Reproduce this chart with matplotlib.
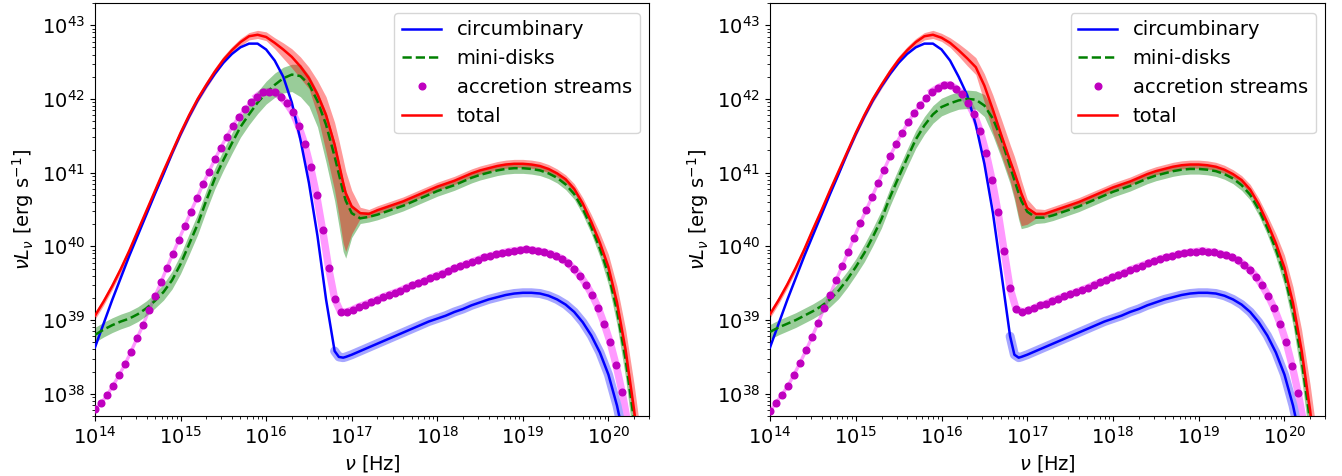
import numpy as np
import matplotlib
matplotlib.use("Agg")
import matplotlib.pyplot as plt

plt.rcParams['font.size'] = 14

# log10(nu) grid for the lines and bands (extra points around the dip)
lognu = np.sort(np.r_[np.arange(140, 205) / 10.0, 16.85, 16.93])

# circumbinary disk, log10(nu L_nu)
circ_left = [38.63, 38.95, 39.27, 39.57, 39.87, 40.15, 40.43, 40.71, 40.98, 41.26,
             41.52, 41.76, 41.98, 42.17, 42.34, 42.49, 42.61, 42.70, 42.75, 42.75,
             42.67, 42.52, 42.30, 41.95, 41.45, 40.86, 40.14, 39.28, 38.58, 38.50,
             38.49, 38.50, 38.53, 38.58, 38.63, 38.68, 38.73, 38.78, 38.83, 38.88,
             38.93, 38.98, 39.02, 39.06, 39.11, 39.15, 39.20, 39.24, 39.28, 39.31,
             39.34, 39.36, 39.37, 39.37, 39.36, 39.33, 39.28, 39.21, 39.11, 38.97,
             38.79, 38.56, 38.26, 37.84, 37.30, 36.60, 35.80]
circ_right = [38.63, 38.95, 39.27, 39.57, 39.87, 40.15, 40.43, 40.71, 40.98, 41.26,
              41.52, 41.76, 41.98, 42.17, 42.34, 42.49, 42.61, 42.70, 42.75, 42.75,
              42.67, 42.52, 42.30, 42.05, 41.65, 41.12, 40.45, 39.62, 38.78, 38.53,
              38.49, 38.50, 38.53, 38.58, 38.63, 38.68, 38.73, 38.78, 38.83, 38.88,
              38.93, 38.98, 39.02, 39.06, 39.11, 39.15, 39.20, 39.24, 39.28, 39.31,
              39.34, 39.36, 39.37, 39.37, 39.36, 39.33, 39.28, 39.21, 39.11, 38.97,
              38.79, 38.56, 38.26, 37.84, 37.30, 36.60, 35.80]

# mini-disks
mini_left = [38.80, 38.87, 38.93, 38.98, 39.02, 39.08, 39.16, 39.26, 39.38, 39.54,
             39.76, 40.03, 40.30, 40.62, 40.92, 41.17, 41.40, 41.62, 41.79, 41.95,
             42.08, 42.19, 42.28, 42.33, 42.31, 42.20, 41.97, 41.65, 41.22, 40.98,
             40.74, 40.62, 40.45, 40.38, 40.40, 40.43, 40.47, 40.51, 40.55, 40.60,
             40.65, 40.70, 40.75, 40.79, 40.83, 40.88, 40.93, 40.97, 41.00, 41.03,
             41.05, 41.06, 41.06, 41.05, 41.03, 40.99, 40.93, 40.84, 40.71, 40.51,
             40.26, 39.97, 39.62, 39.13, 38.47, 37.63, 36.60]
mini_right = [38.84, 38.90, 38.95, 39.00, 39.06, 39.12, 39.19, 39.28, 39.40, 39.55,
              39.72, 39.91, 40.13, 40.37, 40.67, 40.94, 41.20, 41.45, 41.64, 41.79,
              41.89, 41.94, 41.98, 42.00, 41.99, 41.91, 41.73, 41.45, 41.08, 40.90,
              40.72, 40.62, 40.47, 40.39, 40.39, 40.42, 40.46, 40.50, 40.54, 40.59,
              40.64, 40.69, 40.74, 40.78, 40.82, 40.87, 40.92, 40.96, 40.99, 41.02,
              41.04, 41.05, 41.05, 41.04, 41.02, 40.98, 40.92, 40.83, 40.70, 40.50,
              40.25, 39.96, 39.61, 39.12, 38.46, 37.62, 36.60]

# total
total_left = [39.06, 39.25, 39.46, 39.69, 39.94, 40.21, 40.48, 40.75, 41.02, 41.28,
              41.54, 41.78, 42.00, 42.19, 42.37, 42.53, 42.66, 42.77, 42.85, 42.87,
              42.84, 42.76, 42.67, 42.57, 42.44, 42.28, 42.06, 41.78, 41.38, 41.12,
              40.86, 40.72, 40.54, 40.45, 40.44, 40.49, 40.53, 40.57, 40.61, 40.66,
              40.71, 40.76, 40.81, 40.85, 40.89, 40.94, 40.99, 41.03, 41.06, 41.09,
              41.11, 41.12, 41.12, 41.11, 41.09, 41.05, 40.99, 40.91, 40.78, 40.58,
              40.33, 40.05, 39.72, 39.24, 38.60, 37.78, 36.80]
total_right = [39.08, 39.27, 39.48, 39.71, 39.96, 40.23, 40.49, 40.76, 41.02, 41.28,
               41.54, 41.78, 42.00, 42.19, 42.37, 42.53, 42.66, 42.77, 42.85, 42.87,
               42.83, 42.76, 42.66, 42.55, 42.43, 42.18, 41.85, 41.50, 41.16, 41.00,
               40.83, 40.72, 40.52, 40.44, 40.44, 40.48, 40.52, 40.56, 40.60, 40.65,
               40.70, 40.75, 40.80, 40.84, 40.88, 40.93, 40.98, 41.02, 41.05, 41.08,
               41.10, 41.11, 41.11, 41.10, 41.08, 41.04, 40.98, 40.90, 40.77, 40.57,
               40.32, 40.04, 39.71, 39.23, 38.59, 37.77, 36.80]

# band widths (dex below / above the line)
mini_lo_left = [0.10, 0.10, 0.10, 0.10, 0.10, 0.10, 0.10, 0.10, 0.11, 0.12,
                0.13, 0.14, 0.14, 0.14, 0.14, 0.14, 0.14, 0.14, 0.14, 0.15,
                0.15, 0.17, 0.20, 0.23, 0.28, 0.30, 0.35, 0.51, 0.60, 0.70,
                0.81, 0.78, 0.33, 0.07, 0.07, 0.07, 0.07, 0.07, 0.07, 0.07,
                0.07, 0.07, 0.07, 0.07, 0.07, 0.07, 0.07, 0.07, 0.07, 0.07,
                0.07, 0.07, 0.07, 0.07, 0.07, 0.07, 0.07, 0.07, 0.07, 0.08,
                0.09, 0.11, 0.14, 0.19, 0.25, 0.32, 0.40]
mini_hi_left = [0.10, 0.10, 0.10, 0.10, 0.10, 0.10, 0.10, 0.10, 0.11, 0.12,
                0.13, 0.14, 0.14, 0.14, 0.14, 0.14, 0.14, 0.14, 0.14, 0.15,
                0.16, 0.16, 0.15, 0.14, 0.16, 0.12, 0.13, 0.17, 0.20, 0.18,
                0.16, 0.14, 0.12, 0.09, 0.07, 0.07, 0.07, 0.07, 0.07, 0.07,
                0.07, 0.07, 0.07, 0.07, 0.07, 0.07, 0.07, 0.07, 0.07, 0.07,
                0.07, 0.07, 0.07, 0.07, 0.07, 0.07, 0.07, 0.07, 0.07, 0.07,
                0.07, 0.07, 0.07, 0.07, 0.07, 0.07, 0.07]
mini_lo_right = [0.10, 0.10, 0.10, 0.10, 0.10, 0.10, 0.10, 0.10, 0.11, 0.11,
                 0.11, 0.12, 0.12, 0.12, 0.12, 0.12, 0.12, 0.12, 0.12, 0.12,
                 0.12, 0.12, 0.12, 0.13, 0.13, 0.15, 0.23, 0.26, 0.23, 0.27,
                 0.36, 0.38, 0.21, 0.08, 0.07, 0.07, 0.07, 0.07, 0.07, 0.07,
                 0.07, 0.07, 0.07, 0.07, 0.07, 0.07, 0.07, 0.07, 0.07, 0.07,
                 0.07, 0.07, 0.07, 0.07, 0.07, 0.07, 0.07, 0.07, 0.07, 0.08,
                 0.09, 0.11, 0.14, 0.19, 0.25, 0.32, 0.40]
mini_hi_right = [0.10, 0.10, 0.10, 0.10, 0.10, 0.10, 0.10, 0.10, 0.11, 0.11,
                 0.11, 0.12, 0.12, 0.12, 0.12, 0.12, 0.12, 0.12, 0.12, 0.12,
                 0.12, 0.12, 0.12, 0.12, 0.12, 0.15, 0.14, 0.07, 0.10, 0.12,
                 0.13, 0.12, 0.07, 0.07, 0.07, 0.07, 0.07, 0.07, 0.07, 0.07,
                 0.07, 0.07, 0.07, 0.07, 0.07, 0.07, 0.07, 0.07, 0.07, 0.07,
                 0.07, 0.07, 0.07, 0.07, 0.07, 0.07, 0.07, 0.07, 0.07, 0.07,
                 0.07, 0.07, 0.07, 0.07, 0.07, 0.07, 0.07]
total_lo_left = [0.05, 0.05, 0.05, 0.05, 0.05, 0.05, 0.05, 0.05, 0.05, 0.05,
                 0.05, 0.05, 0.05, 0.05, 0.05, 0.05, 0.05, 0.05, 0.05, 0.05,
                 0.05, 0.08, 0.12, 0.15, 0.16, 0.14, 0.28, 0.50, 0.62, 0.70,
                 0.82, 0.79, 0.37, 0.07, 0.05, 0.05, 0.05, 0.05, 0.05, 0.05,
                 0.05, 0.05, 0.05, 0.05, 0.05, 0.05, 0.05, 0.05, 0.05, 0.05,
                 0.05, 0.05, 0.05, 0.05, 0.05, 0.05, 0.05, 0.05, 0.05, 0.05,
                 0.06, 0.07, 0.09, 0.12, 0.16, 0.22, 0.30]
total_hi_left = [0.05, 0.05, 0.05, 0.05, 0.05, 0.05, 0.05, 0.05, 0.05, 0.05,
                 0.05, 0.05, 0.05, 0.05, 0.05, 0.05, 0.05, 0.05, 0.05, 0.06,
                 0.07, 0.07, 0.09, 0.11, 0.13, 0.15, 0.19, 0.25, 0.30, 0.32,
                 0.32, 0.30, 0.22, 0.08, 0.06, 0.06, 0.06, 0.06, 0.06, 0.06,
                 0.06, 0.06, 0.06, 0.06, 0.06, 0.06, 0.06, 0.06, 0.06, 0.06,
                 0.06, 0.06, 0.06, 0.06, 0.06, 0.06, 0.06, 0.06, 0.07, 0.08,
                 0.10, 0.13, 0.17, 0.22, 0.28, 0.35, 0.45]
total_lo_right = [0.05, 0.05, 0.05, 0.05, 0.05, 0.05, 0.05, 0.05, 0.05, 0.05,
                  0.05, 0.05, 0.05, 0.05, 0.05, 0.05, 0.05, 0.05, 0.05, 0.05,
                  0.05, 0.06, 0.08, 0.10, 0.10, 0.23, 0.31, 0.27, 0.27, 0.33,
                  0.43, 0.44, 0.22, 0.06, 0.05, 0.05, 0.05, 0.05, 0.05, 0.05,
                  0.05, 0.05, 0.05, 0.05, 0.05, 0.05, 0.05, 0.05, 0.05, 0.05,
                  0.05, 0.05, 0.05, 0.05, 0.05, 0.05, 0.05, 0.05, 0.05, 0.05,
                  0.06, 0.07, 0.09, 0.12, 0.16, 0.22, 0.30]
total_hi_right = [0.05, 0.05, 0.05, 0.05, 0.05, 0.05, 0.05, 0.05, 0.05, 0.05,
                  0.05, 0.05, 0.05, 0.05, 0.05, 0.05, 0.05, 0.05, 0.05, 0.06,
                  0.06, 0.07, 0.09, 0.11, 0.13, 0.16, 0.20, 0.22, 0.22, 0.22,
                  0.20, 0.18, 0.12, 0.07, 0.06, 0.06, 0.06, 0.06, 0.06, 0.06,
                  0.06, 0.06, 0.06, 0.06, 0.06, 0.06, 0.06, 0.06, 0.06, 0.06,
                  0.06, 0.06, 0.06, 0.06, 0.06, 0.06, 0.06, 0.06, 0.07, 0.08,
                  0.10, 0.13, 0.17, 0.22, 0.28, 0.35, 0.45]

# accretion streams, sampled every 0.07 dex from 1e14 Hz
stream_left = [37.79, 37.87, 37.98, 38.11, 38.25, 38.40, 38.57, 38.75, 38.93, 39.13,
               39.32, 39.51, 39.71, 39.90, 40.09, 40.28, 40.47, 40.65, 40.84, 41.01,
               41.18, 41.34, 41.49, 41.63, 41.76, 41.86, 41.96, 42.03, 42.09, 42.10,
               42.09, 42.03, 41.94, 41.82, 41.63, 41.39, 41.07, 40.69, 40.22, 39.71,
               39.29, 39.11, 39.11, 39.14, 39.18, 39.21, 39.24, 39.27, 39.31, 39.34,
               39.37, 39.40, 39.44, 39.47, 39.50, 39.53, 39.57, 39.60, 39.63, 39.66,
               39.70, 39.73, 39.76, 39.79, 39.82, 39.85, 39.87, 39.89, 39.91, 39.93,
               39.94, 39.95, 39.96, 39.95, 39.94, 39.92, 39.90, 39.87, 39.83, 39.77,
               39.69, 39.60, 39.48, 39.34, 39.17, 38.95, 38.70, 38.39, 38.02, 37.58,
               37.05]
stream_right = [37.76, 37.88, 37.99, 38.11, 38.26, 38.42, 38.59, 38.77, 38.96, 39.16,
                39.34, 39.54, 39.73, 39.92, 40.12, 40.31, 40.49, 40.67, 40.86, 41.04,
                41.22, 41.39, 41.54, 41.68, 41.81, 41.92, 42.01, 42.10, 42.15, 42.19,
                42.19, 42.14, 42.07, 41.95, 41.79, 41.57, 41.27, 40.90, 40.46, 39.94,
                39.43, 39.15, 39.11, 39.13, 39.16, 39.20, 39.22, 39.26, 39.29, 39.32,
                39.35, 39.38, 39.41, 39.44, 39.48, 39.51, 39.54, 39.58, 39.61, 39.64,
                39.68, 39.71, 39.74, 39.77, 39.80, 39.83, 39.85, 39.87, 39.89, 39.91,
                39.92, 39.93, 39.94, 39.93, 39.92, 39.90, 39.88, 39.85, 39.81, 39.75,
                39.68, 39.59, 39.47, 39.33, 39.16, 38.95, 38.70, 38.38, 38.01, 37.57,
                37.05]
lognu_dots = 14 + 0.07 * np.arange(len(stream_left))


def draw(ax, circ, mini, mini_lo, mini_hi, total, total_lo, total_hi, stream):
    nu = 10**lognu
    nud = 10**lognu_dots
    c = np.array(circ)
    m = np.array(mini)
    t = np.array(total)
    s = np.array(stream)

    # uncertainty bands
    ax.plot(nud[:28], 10**s[:28], color='#ff99ff', lw=2.4, zorder=1)
    ax.plot(nud[27:], 10**s[27:], color='#ff99ff', lw=5.3, zorder=1)
    late = lognu >= 16.8
    ax.plot(nu[late], 10**c[late], color='#a6a6ff', lw=6.5, zorder=1,
            solid_capstyle='round')
    ax.fill_between(nu, 10**(m - np.array(mini_lo)), 10**(m + np.array(mini_hi)),
                    color='g', alpha=0.4, lw=0, zorder=2)
    ax.fill_between(nu, 10**(t - np.array(total_lo)), 10**(t + np.array(total_hi)),
                    color='r', alpha=0.4, lw=0, zorder=2)

    ax.plot(nu, 10**c, 'b-', lw=1.8, label='circumbinary', zorder=3)
    ax.plot(nu, 10**m, 'g--', lw=1.8, label='mini-disks', zorder=3)
    ax.plot(nud, 10**s, 'mo', ms=4.8, ls='none', label='accretion streams', zorder=4)
    ax.plot(nu, 10**t, 'r-', lw=1.8, label='total', zorder=3)

    ax.set_xscale('log')
    ax.set_yscale('log')
    ax.set_xticks(10.0**np.arange(14, 21))
    ax.set_yticks(10.0**np.arange(38, 44))
    ax.set_xlim(1e14, 3e20)
    ax.set_ylim(5e37, 2e43)
    ax.set_xlabel(r'$\nu$ [Hz]')
    ax.set_ylabel(r'$\nu L_\nu$ [erg s$^{-1}$]')
    ax.legend(loc='upper right')


fig = plt.figure(figsize=(13.42, 4.76), dpi=100)
ax1 = fig.add_axes([0.0708, 0.1261, 0.4130, 0.8676])
ax2 = fig.add_axes([0.5738, 0.1261, 0.4138, 0.8676])

draw(ax1, circ_left, mini_left, mini_lo_left, mini_hi_left,
     total_left, total_lo_left, total_hi_left, stream_left)
draw(ax2, circ_right, mini_right, mini_lo_right, mini_hi_right,
     total_right, total_lo_right, total_hi_right, stream_right)

fig.savefig('out.png', dpi=100)
